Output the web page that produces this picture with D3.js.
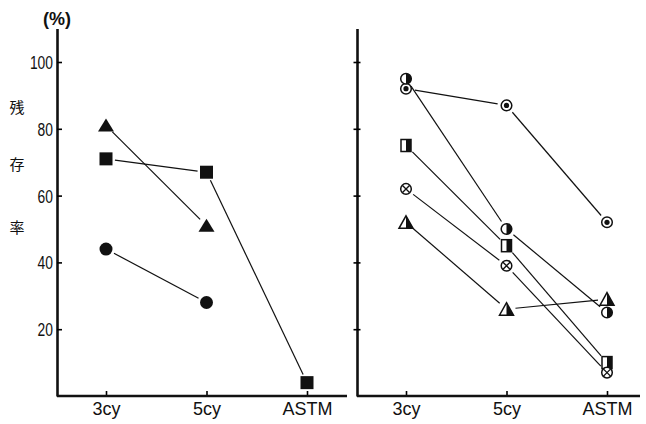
<!DOCTYPE html>
<html>
<head>
<meta charset="utf-8">
<script src="https://cdn.jsdelivr.net/npm/d3@7"></script>
<style>
  body { margin: 0; background: #fff; }
  svg text { font-family: "Liberation Sans", Arial, sans-serif; fill: #111; }
</style>
</head>
<body>
<div id="chart"></div>
<script>
// data
const categories = ["3cy", "5cy", "ASTM"];
const yTicks = [20, 40, 60, 80, 100];

// left panel
const leftTriangle = [81, 51, null];
const leftSquare = [71, 67, 4];
const leftCircle = [44, 28, null];

// right panel
const rightBullseye = [92, 87, 52];
const rightHalfCircle = [95, 50, 25];
const rightHalfSquare = [75, 45, 10];
const rightCrossCircle = [62, 39, 7];
const rightHalfTriangle = [52, 26, 29];

const width = 646;
const height = 424;

const svg = d3.select("#chart").append("svg")
    .attr("width", width)
    .attr("height", height);

const y = d3.scaleLinear().domain([0, 110]).range([396, 28.6]);

const panels = [
    {
        axisX: 57, xEnd: 347,
        x: d3.scalePoint().domain(categories).range([106, 307]),
        tickInside: true,
        series: [
            { shape: "triangle", values: leftTriangle },
            { shape: "square", values: leftSquare },
            { shape: "circle", values: leftCircle }
        ]
    },
    {
        axisX: 357, xEnd: 640,
        x: d3.scalePoint().domain(categories).range([406, 607]),
        tickInside: false,
        series: [
            { shape: "bullseye", values: rightBullseye },
            { shape: "halfCircle", values: rightHalfCircle },
            { shape: "halfSquare", values: rightHalfSquare },
            { shape: "crossCircle", values: rightCrossCircle },
            { shape: "halfTriangle", values: rightHalfTriangle }
        ]
    }
];

// marker drawing
function drawMarker(g, shape) {
    const sw = 1.5;
    if (shape === "triangle") {
        g.append("path").attr("d", "M0,-7L8,6L-8,6Z").attr("fill", "#111");
    } else if (shape === "square") {
        g.append("rect").attr("x", -6.5).attr("y", -6.5).attr("width", 13).attr("height", 13).attr("fill", "#111");
    } else if (shape === "circle") {
        g.append("circle").attr("r", 6.5).attr("fill", "#111");
    } else if (shape === "bullseye") {
        g.append("circle").attr("r", 5.3).attr("fill", "#fff").attr("stroke", "#111").attr("stroke-width", sw);
        g.append("circle").attr("r", 2.6).attr("fill", "#111");
    } else if (shape === "halfCircle") {
        g.append("circle").attr("r", 5.3).attr("fill", "#fff").attr("stroke", "#111").attr("stroke-width", sw);
        g.append("path").attr("d", "M0,-5.3A5.3,5.3 0 0 1 0,5.3Z").attr("fill", "#111");
    } else if (shape === "halfSquare") {
        g.append("rect").attr("x", -5).attr("y", -6).attr("width", 10).attr("height", 12)
            .attr("fill", "#fff").attr("stroke", "#111").attr("stroke-width", sw);
        g.append("rect").attr("x", 0).attr("y", -6).attr("width", 5).attr("height", 12).attr("fill", "#111");
    } else if (shape === "crossCircle") {
        g.append("circle").attr("r", 5.3).attr("fill", "#fff").attr("stroke", "#111").attr("stroke-width", sw);
        g.append("path").attr("d", "M-3.5,-3.5L3.5,3.5M3.5,-3.5L-3.5,3.5").attr("stroke", "#111").attr("stroke-width", 1.4);
    } else if (shape === "halfTriangle") {
        g.append("path").attr("d", "M0,-6.5L7,6L-7,6Z")
            .attr("fill", "#fff").attr("stroke", "#111").attr("stroke-width", sw).attr("stroke-linejoin", "miter");
        g.append("path").attr("d", "M0,-6.5L7,6L0,6Z").attr("fill", "#111");
    }
}

const gap = 9;

panels.forEach(p => {
    const g = svg.append("g");

    // y axis
    const yAxis = d3.axisLeft(y).tickValues(yTicks).tickSizeOuter(0).tickPadding(4)
        .tickFormat(p.tickInside ? d3.format("d") : "");
    const ya = g.append("g").attr("transform", `translate(${p.axisX},0)`).call(yAxis);
    ya.select(".domain").attr("stroke", "#111").attr("stroke-width", 2.6);
    if (p.tickInside) {
        ya.selectAll(".tick line").attr("x2", 5).attr("stroke-width", 1.6);
        // condensed digits like the original print
        ya.selectAll(".tick text")
            .attr("font-size", 18).attr("x", -4).attr("dy", "0.36em")
            .attr("textLength", d => String(d).length * 7.7)
            .attr("lengthAdjust", "spacingAndGlyphs");
    } else {
        ya.selectAll(".tick line").attr("x1", -3.5).attr("x2", 3.5).attr("stroke-width", 1.6);
    }

    // x axis
    const xa = g.append("g").attr("transform", "translate(0,396)")
        .call(d3.axisBottom(p.x).tickSize(-5).tickPadding(5));
    xa.select(".domain").remove();
    xa.selectAll(".tick line").attr("stroke-width", 1.6);
    xa.selectAll(".tick text").attr("font-size", 18).attr("dy", "0.8em");
    g.append("line")
        .attr("x1", p.axisX).attr("x2", p.xEnd)
        .attr("y1", 396).attr("y2", 396)
        .attr("stroke", "#111").attr("stroke-width", 2.6);

    // connecting lines, stopped short of the markers
    p.series.forEach(s => {
        const pts = s.values.map((v, i) => v == null ? null : [p.x(categories[i]), y(v)]);
        for (let i = 0; i < pts.length - 1; i++) {
            const a = pts[i], b = pts[i + 1];
            if (!a || !b) continue;
            const dx = b[0] - a[0], dy = b[1] - a[1];
            const len = Math.hypot(dx, dy);
            const ux = dx / len, uy = dy / len;
            g.append("line")
                .attr("x1", a[0] + ux * gap).attr("y1", a[1] + uy * gap)
                .attr("x2", b[0] - ux * gap).attr("y2", b[1] - uy * gap)
                .attr("stroke", "#111").attr("stroke-width", 1.2);
        }
    });

    // markers
    p.series.forEach(s => {
        s.values.forEach((v, i) => {
            if (v == null) return;
            const m = g.append("g").attr("transform", `translate(${p.x(categories[i])},${y(v)})`);
            drawMarker(m, s.shape);
        });
    });
});

// unit and y title
svg.append("text").attr("x", 57).attr("y", 25).attr("text-anchor", "middle")
    .attr("font-size", 18).attr("font-weight", "bold").text("(%)");

const titleChars = ["残", "存", "率"];
const titleY = [108, 165, 228];
svg.selectAll(".ytitle").data(titleChars).enter().append("text")
    .attr("class", "ytitle")
    .attr("x", 17).attr("y", (d, i) => titleY[i])
    .attr("dy", "0.35em")
    .attr("text-anchor", "middle")
    .attr("font-size", 15)
    .style("font-family", "'Noto Sans CJK JP', 'Noto Sans CJK SC', sans-serif")
    .text(d => d);
</script>
</body>
</html>
